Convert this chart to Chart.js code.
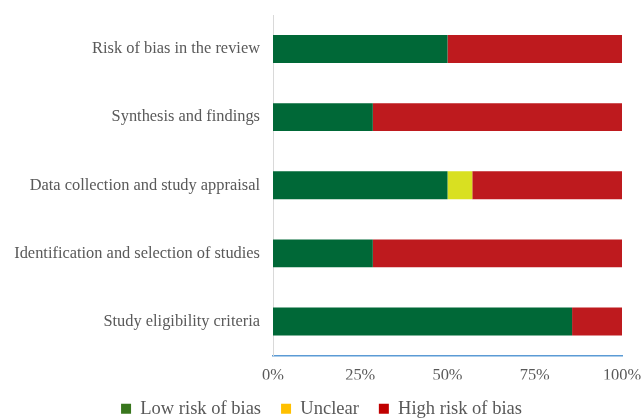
<!DOCTYPE html>
<html>
<head>
<meta charset="utf-8">
<script src="https://cdn.jsdelivr.net/npm/chart.js@4"></script>
<style>
  html, body { margin: 0; padding: 0; background: #fff; }
  #wrap { width: 643px; height: 420px; }
</style>
</head>
<body>
<div id="wrap"><canvas id="robChart"></canvas></div>
<script>
const CATEGORIES = [
    'Risk of bias in the review',
    'Synthesis and findings',
    'Data collection and study appraisal',
    'Identification and selection of studies',
    'Study eligibility criteria'
];
const LOW_RISK = [50, 28.6, 50, 28.6, 85.7];
const UNCLEAR = [0, 0, 7.1, 0, 0];
const HIGH_RISK = [50, 71.4, 42.9, 71.4, 14.3];
const X_TICKS = [0, 25, 50, 75, 100];

const SERIES_NAMES = ['Low risk of bias', 'Unclear', 'High risk of bias'];
const BAR_COLORS = ['#006837', '#d9e021', '#be1a1e'];
const LEGEND_COLORS = ['#38761d', '#ffc000', '#c00000'];

const textColor = '#595959';
const serif = "'Liberation Serif', 'Times New Roman', serif";

const ctx = document.getElementById('robChart');

new Chart(ctx, {
    type: 'bar',
    data: {
        labels: CATEGORIES,
        datasets: [LOW_RISK, UNCLEAR, HIGH_RISK].map((d, i) => ({
            label: SERIES_NAMES[i],
            data: d,
            backgroundColor: BAR_COLORS[i],
            borderWidth: 0,
            barPercentage: 0.82,
            categoryPercentage: 0.5
        }))
    },
    options: {
        indexAxis: 'y',
        responsive: true,
        maintainAspectRatio: false,
        animation: false,
        // negative bottom lets the legend sit lower, as in the original
        layout: { padding: { top: 15, right: 0, left: 0, bottom: -8 } },
        scales: {
            x: {
                stacked: true,
                min: 0,
                max: 100,
                afterBuildTicks: (scale) => {
                    scale.ticks = X_TICKS.map(v => ({ value: v }));
                },
                afterFit: (scale) => {
                    scale.height = 24;
                    scale.paddingRight = 21;
                    scale.paddingLeft = 0;
                },
                grid: { display: false, drawTicks: false },
                border: { color: '#5b9bd5', width: 1.5 },
                ticks: {
                    color: textColor,
                    font: { family: serif, size: 16.4 },
                    padding: 10,
                    callback: (v) => v + '%'
                }
            },
            y: {
                stacked: true,
                grid: { display: false, drawTicks: false },
                border: { color: '#d9d9d9', width: 1 },
                afterFit: (scale) => {
                    scale.width = 273;
                    scale.paddingTop = 0;
                    scale.paddingBottom = 0;
                },
                ticks: {
                    color: textColor,
                    font: { family: serif, size: 16.4 },
                    padding: 13
                }
            }
        },
        plugins: {
            legend: {
                position: 'bottom',
                labels: {
                    color: textColor,
                    font: { family: serif, size: 18.5, lineHeight: 1 },
                    boxWidth: 10,
                    boxHeight: 10,
                    padding: 20,
                    generateLabels: (chart) => SERIES_NAMES.map((name, i) => ({
                        text: name,
                        fillStyle: LEGEND_COLORS[i],
                        strokeStyle: LEGEND_COLORS[i],
                        lineWidth: 0,
                        datasetIndex: i,
                        fontColor: textColor
                    }))
                }
            },
            tooltip: { enabled: false }
        }
    }
});
</script>
</body>
</html>
